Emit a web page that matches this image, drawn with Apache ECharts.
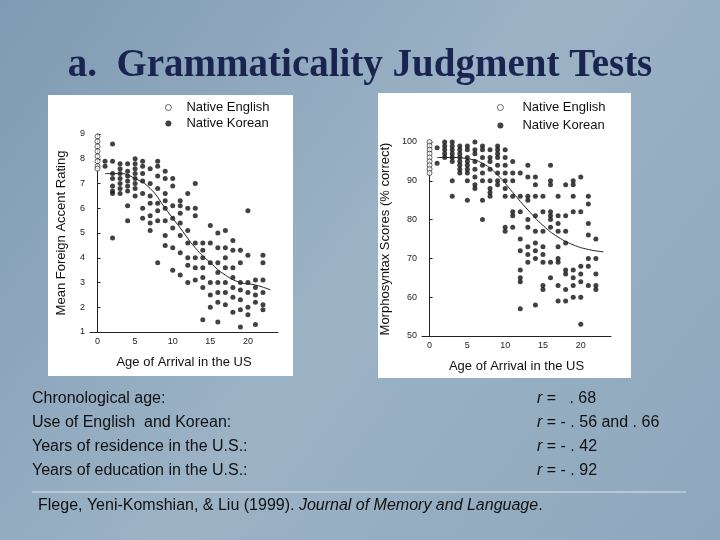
<!DOCTYPE html>
<html><head><meta charset="utf-8">
<script src="https://cdn.jsdelivr.net/npm/echarts@6/dist/echarts.min.js"></script>
<style>html,body{margin:0;padding:0}#c{width:720px;height:540px}</style>
</head><body><div id="c"></div>
<script>
// 左图：口音评分（每个到达年龄一列）
var accentEnglish = [8.9, 8.7, 8.5, 8.3, 8.1, 7.9, 7.7, 7.6];
var accentKorean = {
    1: [7.9, 7.7], 2: [8.6, 7.9, 7.4, 7.2, 6.9, 6.7, 6.6, 4.8], 3: [7.8, 7.6, 7.4, 7.2, 7.0, 6.8, 6.6],
    4: [7.8, 7.5, 7.3, 7.1, 6.9, 6.7, 6.1, 5.5], 5: [8.0, 7.8, 7.6, 7.4, 7.2, 7.0, 6.8, 6.5],
    6: [7.9, 7.7, 7.4, 7.1, 6.6, 6.0, 5.6], 7: [7.6, 7.0, 6.5, 6.2, 5.7, 5.4, 5.1],
    8: [7.9, 7.7, 7.3, 6.8, 6.2, 5.9, 5.5, 3.8], 9: [7.5, 7.2, 6.6, 6.3, 6.0, 5.5, 4.9, 4.5],
    10: [7.2, 6.9, 6.1, 5.6, 5.2, 4.4, 3.5], 11: [6.3, 6.1, 5.8, 5.4, 4.9, 4.2, 3.3],
    12: [6.6, 6.0, 5.1, 4.6, 4.0, 3.7, 3.0], 13: [7.0, 6.0, 5.7, 4.6, 4.0, 3.6, 3.1],
    14: [4.6, 4.3, 4.0, 3.6, 3.2, 2.8, 1.5], 15: [5.3, 4.6, 3.8, 3.0, 2.5, 2.0],
    16: [5.0, 4.4, 3.8, 3.4, 3.0, 2.6, 2.2, 1.4], 17: [5.1, 4.4, 4.0, 3.6, 3.0, 2.6, 2.1],
    18: [4.7, 4.3, 3.6, 3.2, 2.8, 2.4, 1.8], 19: [4.3, 3.8, 3.0, 2.7, 2.3, 1.9, 1.2],
    20: [5.9, 4.1, 3.0, 2.6, 2.0, 1.7], 21: [3.1, 2.8, 2.5, 2.2, 1.3], 22: [4.1, 3.8, 3.1, 2.6, 2.1, 1.9]
};
var accentFit = [[1, 7.4], [3, 7.4], [5, 7.2], [7, 6.8], [9, 6.0], [11, 5.2], [13, 4.4], [15, 3.8], [17, 3.3], [19, 3.0], [21, 2.9], [23, 2.7]];

// 右图：形态句法得分
var morphEnglish = [100, 99, 98, 97, 96, 95, 94, 93, 92];
var morphKorean = {
    1: [98.5, 94.5], 2: [100, 99, 98, 97, 96], 3: [100, 99, 98, 97, 96, 95, 90, 86],
    4: [99, 98, 97, 96, 95, 94, 93, 92], 5: [99, 98, 96, 95, 94, 93, 92, 90, 85],
    6: [100, 98, 97, 95, 93, 91, 89, 88], 7: [99, 98, 96, 94, 92, 90, 85, 80],
    8: [98, 96, 95, 93, 90, 88, 87, 86], 9: [99, 98, 97, 96, 94, 92, 90, 89],
    10: [98, 96, 94, 92, 90, 88, 86, 78, 77], 11: [95, 92, 90, 86, 82, 81, 78],
    12: [92, 86, 82, 75, 72, 67, 65, 64, 57], 13: [94, 91, 86, 85, 80, 78, 73, 71, 69],
    14: [91, 89, 86, 81, 77, 74, 72, 70, 58], 15: [86, 82, 77, 73, 71, 69, 63, 62],
    16: [94, 90, 89, 82, 81, 80, 78, 69, 65], 17: [86, 81, 79, 77, 73, 70, 69, 63, 59],
    18: [89, 81, 77, 74, 67, 66, 62, 59], 19: [90, 89, 86, 82, 67, 65, 63, 60],
    20: [91, 82, 68, 66, 64, 60, 53], 21: [86, 84, 79, 76, 70, 68, 63], 22: [75, 70, 66, 63, 62]
};
var morphFit = [[1, 96], [3, 96], [5, 95.7], [7, 94.5], [9, 91.5], [11, 87], [13, 82.5], [15, 78.5], [17, 75.5], [19, 73.5], [21, 72.3], [23, 71.7]];

var statLabels = ['Chronological age:', 'Use of English  and Korean:', 'Years of residence in the U.S.:', 'Years of education in the U.S.:'];
var statValues = ['=   . 68', '= - . 56 and . 66', '= - . 42', '= - . 92'];

function toPoints(cols) {
    var out = [];
    Object.keys(cols).forEach(function (k) {
        cols[k].forEach(function (v) { out.push([+k, v]); });
    });
    return out;
}
function colPoints(x, list) {
    return list.map(function (v) { return [x, v]; });
}

function xAxis(idx) {
    return {
        gridIndex: idx, type: 'value', min: -1, max: 24, interval: 1,
        name: 'Age of Arrival in the US', nameLocation: 'middle', nameGap: 24,
        nameTextStyle: { fontFamily: 'Liberation Sans', fontSize: 13, color: '#111' },
        axisLine: { lineStyle: { color: '#222' } }, axisTick: { show: false }, splitLine: { show: false },
        axisLabel: { fontSize: 9, color: '#222', margin: 5, formatter: function (v) { return (v >= 0 && v % 5 === 0) ? v : ''; } }
    };
}
function yAxis(idx, min, max, interval, name, gap) {
    return {
        gridIndex: idx, type: 'value', min: min, max: max, interval: interval,
        name: name, nameLocation: 'middle', nameGap: gap,
        nameTextStyle: { fontFamily: 'Liberation Sans', fontSize: 13, color: '#111' },
        axisLine: { show: true, lineStyle: { color: '#222' } }, axisTick: { inside: true, length: 3 },
        splitLine: { show: false }, axisLabel: { fontSize: 9, color: '#222', margin: 5 }
    };
}
var dot = { color: '#111' };
var open = { color: '#fff', borderColor: '#111', borderWidth: 0.8 };

var graphics = [
    { type: 'text', left: 'center', top: 46, style: { text: 'a.  Grammaticality Judgment Tests', font: 'bold 39px "Liberation Serif"', fill: '#1a2450' } },
    { type: 'rect', shape: { x: 48, y: 95, width: 245, height: 281 }, style: { fill: '#fff' }, z: -1 },
    { type: 'rect', shape: { x: 378, y: 93, width: 253, height: 285 }, style: { fill: '#fff' }, z: -1 },
    { type: 'line', shape: { x1: 32, y1: 492, x2: 686, y2: 492 }, style: { stroke: '#dde4ea', lineWidth: 1 } },
    { type: 'text', left: 38, top: 498, style: { text: 'Flege, Yeni-Komshian, & Liu (1999). {i|Journal of Memory and Language}.', font: '16px "Liberation Sans"', fill: '#111', rich: { i: { fontStyle: 'italic', fontSize: 16, fontFamily: 'Liberation Sans', fill: '#111' } } } }
];
statLabels.forEach(function (t, i) {
    graphics.push({ type: 'text', left: 32, top: 391 + i * 24, style: { text: t, font: '16px "Liberation Sans"', fill: '#111' } });
    graphics.push({ type: 'text', left: 537, top: 391 + i * 24, style: { text: '{i|r} ' + statValues[i], font: '16px "Liberation Sans"', fill: '#111', rich: { i: { fontStyle: 'italic', fontSize: 16, fontFamily: 'Liberation Sans', fill: '#111' } } } });
});

var chart = echarts.init(document.getElementById('c'));
chart.setOption({
    backgroundColor: new echarts.graphic.LinearGradient(0, 0, 1, 1, [{ offset: 0, color: '#7f9ab2' }, { offset: 0.5, color: '#9cb3c6' }, { offset: 1, color: '#8ea7bc' }]),
    animation: false,
    grid: [
        { left: 90, width: 188, top: 134, height: 198 },
        { left: 422, width: 189, top: 142, height: 194 }
    ],
    legend: [
        { left: 160, top: 96, orient: 'vertical', itemGap: 3, itemWidth: 6, itemHeight: 6, itemGap2: 0, textStyle: { fontSize: 13, color: '#111', fontFamily: 'Liberation Sans', padding: [0, 0, 0, 10] }, data: [{ name: 'Native English', itemStyle: open }, { name: 'Native Korean', itemStyle: dot }] },
        { left: 492, top: 96, orient: 'vertical', itemGap: 5, itemWidth: 6, itemHeight: 6, textStyle: { fontSize: 13, color: '#111', fontFamily: 'Liberation Sans', padding: [0, 0, 0, 14] }, data: [{ name: 'Native English', itemStyle: open }, { name: 'Native Korean', itemStyle: dot }] }
    ],
    xAxis: [xAxis(0), xAxis(1)],
    yAxis: [yAxis(0, 1, 9, 1, 'Mean Foreign Accent Rating', 22), yAxis(1, 50, 100, 10, 'Morphosyntax Scores (% correct)', 30)],
    series: [
        { name: 'Native Korean', type: 'scatter', xAxisIndex: 0, yAxisIndex: 0, symbolSize: 5, itemStyle: dot, data: toPoints(accentKorean) },
        { name: 'Native English', type: 'scatter', xAxisIndex: 0, yAxisIndex: 0, symbolSize: 5, itemStyle: open, data: colPoints(0, accentEnglish) },
        { type: 'line', xAxisIndex: 0, yAxisIndex: 0, smooth: true, symbol: 'none', lineStyle: { color: '#222', width: 1 }, data: accentFit },
        { name: 'Native Korean', type: 'scatter', xAxisIndex: 1, yAxisIndex: 1, symbolSize: 5, itemStyle: dot, data: toPoints(morphKorean) },
        { name: 'Native English', type: 'scatter', xAxisIndex: 1, yAxisIndex: 1, symbolSize: 5, itemStyle: open, data: colPoints(0, morphEnglish) },
        { type: 'line', xAxisIndex: 1, yAxisIndex: 1, smooth: true, symbol: 'none', lineStyle: { color: '#222', width: 1 }, data: morphFit }
    ],
    graphic: graphics
});
</script></body></html>
